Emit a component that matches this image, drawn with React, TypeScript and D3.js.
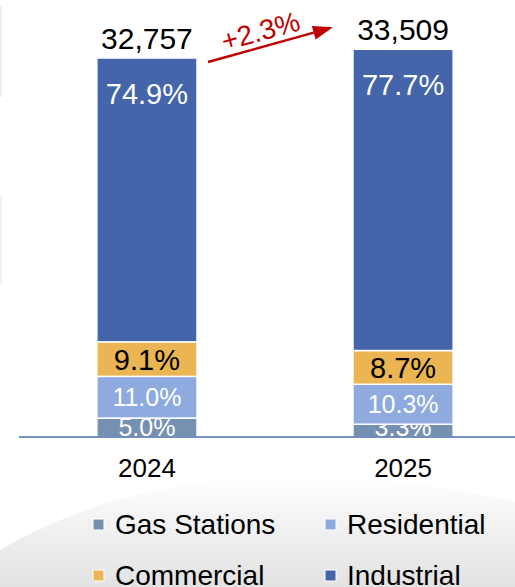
import React, { useEffect, useRef } from "react";
import * as d3 from "d3";

// chart data
const years = ["2024", "2025"];
const totals = [32757, 33509];
const segments = ["Gas Stations", "Residential", "Commercial", "Industrial"];
const gasShare = [5.0, 3.3];
const residentialShare = [11.0, 10.3];
const commercialShare = [9.1, 8.7];
const industrialShare = [74.9, 77.7];
const legendOrder = ["Gas Stations", "Residential", "Commercial", "Industrial"];

const colors: Record<string, string> = {
  "Gas Stations": "#7690b2",
  Residential: "#8eaadf",
  Commercial: "#eab552",
  Industrial: "#4465aa",
};

const FONT = "'Liberation Sans', Arial, sans-serif";

const App = () => {
  const ref = useRef<SVGSVGElement>(null);

  useEffect(() => {
    document.body.style.margin = "0";
    const width = 515;
    const height = 587;
    const baseY = 437;

    const svg = d3.select(ref.current).attr("width", width).attr("height", height);
    svg.selectAll("*").remove();

    // background
    const defs = svg.append("defs");
    const grad = defs
      .append("linearGradient")
      .attr("id", "bg")
      .attr("x1", 0)
      .attr("y1", 0)
      .attr("x2", 0)
      .attr("y2", 1);
    grad.append("stop").attr("offset", "0%").attr("stop-color", "#ffffff");
    grad.append("stop").attr("offset", "40%").attr("stop-color", "#f3f3f3");
    grad.append("stop").attr("offset", "100%").attr("stop-color", "#e2e2e2");
    defs
      .append("clipPath")
      .attr("id", "plotClip")
      .append("rect")
      .attr("x", 0)
      .attr("y", 0)
      .attr("width", width)
      .attr("height", baseY);

    svg.append("rect").attr("width", width).attr("height", height).attr("fill", "#fff");
    svg
      .append("path")
      .attr("d", "M0,587 L0,550 C110,485 240,470 340,476 C420,482 480,494 515,502 L515,587 Z")
      .attr("fill", "url(#bg)");
    svg.append("rect").attr("x", 0).attr("y", 5).attr("width", 2).attr("height", 92).attr("fill", "#eeeeee");
    svg.append("rect").attr("x", 0).attr("y", 195).attr("width", 2).attr("height", 90).attr("fill", "#f2f2f2");

    const x = d3.scaleBand().domain(years).range([20, 530]).paddingInner(0.609).paddingOuter(0.3);
    const y = d3.scaleLinear().domain([0, totals[0]]).range([baseY, 58]);

    const rows = years.map((yr, i) => {
      const shares: Record<string, number> = {
        "Gas Stations": gasShare[i],
        Residential: residentialShare[i],
        Commercial: commercialShare[i],
        Industrial: industrialShare[i],
      };
      const row: any = { year: yr, total: totals[i] };
      segments.forEach((s) => (row[s] = (totals[i] * shares[s]) / 100));
      row.shares = shares;
      return row;
    });

    const stacked = d3.stack<any>().keys(segments)(rows);

    const plot = svg.append("g").attr("clip-path", "url(#plotClip)");

    stacked.forEach((layer) => {
      const key = layer.key;
      layer.forEach((d, i) => {
        const yr = years[i];
        const x0 = x(yr)!;
        const top = y(d[1]);
        const bottom = y(d[0]);
        plot
          .append("rect")
          .attr("x", x0)
          .attr("y", top)
          .attr("width", x.bandwidth())
          .attr("height", bottom - top)
          .attr("fill", colors[key])
          .attr("stroke", "#fff")
          .attr("stroke-width", 1.5);

        const share = rows[i].shares[key];
        const cx = x0 + x.bandwidth() / 2;
        let ty: number;
        let size = 25;
        let fill = "#fff";
        if (key === "Industrial") {
          ty = top + 46;
          size = 29;
        } else {
          const mid = Math.min((top + bottom) / 2, baseY - 10);
          if (key === "Commercial") {
            size = 29;
            fill = "#000";
          }
          ty = mid + size * 0.36;
        }
        plot
          .append("text")
          .attr("x", cx)
          .attr("y", ty)
          .attr("text-anchor", "middle")
          .attr("fill", fill)
          .style("font-family", FONT)
          .style("font-size", size + "px")
          .text(share.toFixed(1) + "%");
      });
    });

    // totals above bars
    rows.forEach((r) => {
      svg
        .append("text")
        .attr("x", x(r.year)! + x.bandwidth() / 2)
        .attr("y", y(r.total) - 9)
        .attr("text-anchor", "middle")
        .attr("fill", "#000")
        .style("font-family", FONT)
        .style("font-size", "30px")
        .text(d3.format(",")(r.total));
    });

    // baseline
    svg
      .append("line")
      .attr("x1", 19)
      .attr("x2", width)
      .attr("y1", baseY)
      .attr("y2", baseY)
      .attr("stroke", "#4a6cb0")
      .attr("stroke-width", 1.6);

    // category labels
    years.forEach((yr) => {
      svg
        .append("text")
        .attr("x", x(yr)! + x.bandwidth() / 2)
        .attr("y", 477)
        .attr("text-anchor", "middle")
        .attr("fill", "#000")
        .style("font-family", FONT)
        .style("font-size", "26px")
        .text(yr);
    });

    // growth arrow
    const ax1 = x(years[0])! + x.bandwidth() + 11;
    const ay1 = y(totals[0]) + 4;
    const ax2 = x(years[1])! - 20;
    const ay2 = y(totals[1]) - 22;
    const red = "#c00000";
    const ang = Math.atan2(ay2 - ay1, ax2 - ax1);
    const headLen = 20;
    const headW = 7;
    const bx = ax2 - headLen * Math.cos(ang);
    const by = ay2 - headLen * Math.sin(ang);
    svg
      .append("line")
      .attr("x1", ax1)
      .attr("y1", ay1)
      .attr("x2", bx)
      .attr("y2", by)
      .attr("stroke", red)
      .attr("stroke-width", 2.5);
    svg
      .append("polygon")
      .attr(
        "points",
        [
          [ax2, ay2],
          [bx - headW * Math.sin(ang), by + headW * Math.cos(ang)],
          [bx + headW * Math.sin(ang), by - headW * Math.cos(ang)],
        ]
          .map((p) => p.join(","))
          .join(" ")
      )
      .attr("fill", red);

    const growth = (totals[1] / totals[0] - 1) * 100;
    const mx = (ax1 + ax2) / 2;
    const my = (ay1 + ay2) / 2;
    svg
      .append("text")
      .attr("transform", `translate(${mx},${my}) rotate(${(ang * 180) / Math.PI})`)
      .attr("x", -6)
      .attr("y", -6)
      .attr("text-anchor", "middle")
      .attr("fill", red)
      .style("font-family", FONT)
      .style("font-size", "28px")
      .text("+" + growth.toFixed(1) + "%");

    // legend
    legendOrder.forEach((name, i) => {
      const lx = i % 2 === 0 ? 93 : 325;
      const ly = 519 + Math.floor(i / 2) * 51;
      svg
        .append("rect")
        .attr("x", lx)
        .attr("y", ly)
        .attr("width", 11)
        .attr("height", 11)
        .attr("fill", colors[name])
        .attr("stroke", "#fff")
        .attr("stroke-width", 1);
      svg
        .append("text")
        .attr("x", lx + 22)
        .attr("y", ly + 15)
        .attr("fill", "#000")
        .style("font-family", FONT)
        .style("font-size", "28px")
        .text(name);
    });
  }, []);

  return (
    <div>
      <svg ref={ref} style={{ display: "block" }}></svg>
    </div>
  );
};

export default App;
